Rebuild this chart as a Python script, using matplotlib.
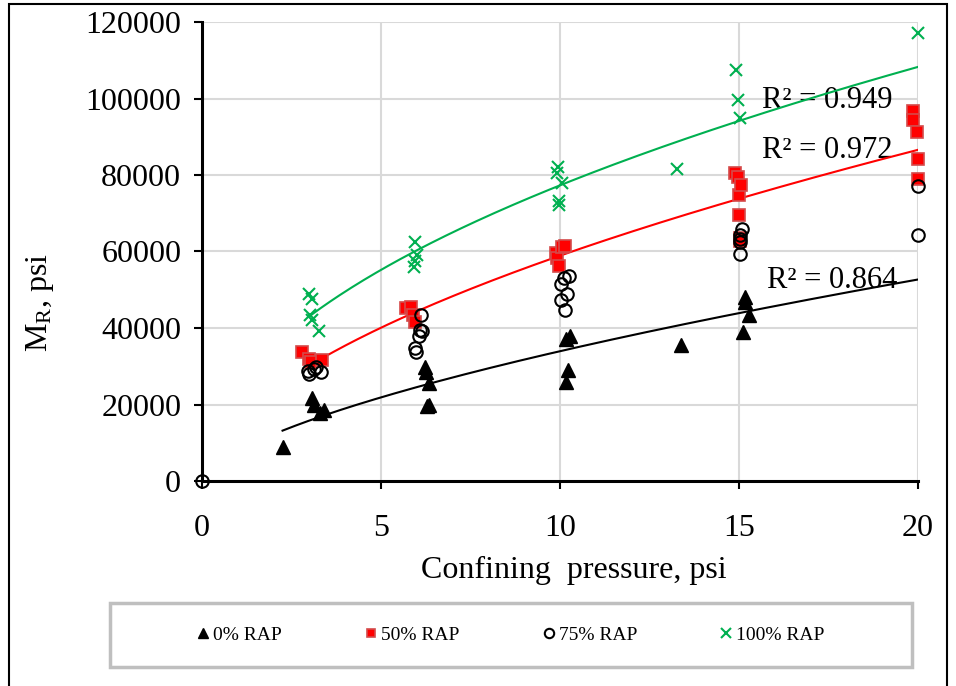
import numpy as np
import matplotlib
matplotlib.use("Agg")
import matplotlib.pyplot as plt
from matplotlib.patches import Rectangle

# Datos: presión de confinamiento (psi) vs módulo resiliente (psi)
x_0rap = [2.25, 3.07, 3.13, 3.3, 3.4, 6.23, 6.27, 6.35, 6.34, 6.28,
          10.17, 10.27, 10.22, 10.17, 13.39, 15.16, 15.16, 15.28, 15.11]
y_0rap = [8900, 21700, 20000, 17700, 18500, 29800, 28400, 25700, 20000, 19500,
          37200, 37800, 29100, 26000, 35500, 48100, 46700, 43300, 38900]

x_50rap = [2.79, 3.0, 3.05, 3.34, 5.69, 5.83, 5.88, 5.95,
           9.9, 9.93, 9.97, 10.05, 10.15,
           14.9, 14.96, 14.99, 15.06, 15.01, 15.04, 15.04,
           19.86, 19.86, 19.97, 20.0, 20.0]
y_50rap = [33800, 31800, 31100, 31700, 45100, 45400, 43300, 41500,
           59500, 58200, 56100, 61100, 61500,
           80400, 79600, 74800, 77500, 69500, 63500, 62700,
           96700, 94500, 91300, 84100, 79000]

x_75rap = [0.0, 2.96, 3.0, 3.13, 3.19, 3.32, 6.12, 6.1, 6.15, 6.05, 5.96, 5.98,
           10.03, 10.12, 10.24, 10.02, 10.19, 10.14,
           15.08, 15.04, 15.04, 15.04, 15.04, 20.0, 20.0]
y_75rap = [0, 28800, 28000, 29200, 29800, 28400, 43500, 39500, 39300, 38000, 34900, 33600,
           51500, 53000, 53600, 47200, 48900, 44600,
           65900, 64300, 63200, 62600, 59300, 77000, 64300]

x_100rap = [3.0, 3.07, 3.02, 3.07, 3.27, 5.96, 6.0, 5.96, 5.91,
            9.95, 9.93, 10.05, 9.97, 9.97, 13.27, 14.92, 14.97, 15.03, 20.0]
y_100rap = [49000, 47500, 43500, 42000, 39100, 62600, 59000, 57600, 55900,
            82100, 80400, 77800, 73300, 72100, 81500, 107400, 99700, 94800, 117100]

# Líneas de tendencia potenciales (y = a * x^b) y sus R²
tendencia_a = {"0": 7873, "50": 16385, "100": 25245}
tendencia_b = {"0": 0.6345, "50": 0.5557, "100": 0.486}
tendencia_xmin = {"0": 2.25, "50": 3.34, "100": 3.07}
r2_textos = {"0": "R² = 0.864", "50": "R² = 0.972", "100": "R² = 0.949"}
r2_pos = {"0": (15.78, 52500), "50": (15.64, 86500), "100": (15.64, 99600)}

VERDE = "#00b050"
ROJO = "#ff0000"


def configurar_fuentes():
    plt.rcParams["font.family"] = ["Liberation Serif", "DejaVu Serif"]
    plt.rcParams["mathtext.fontset"] = "custom"
    plt.rcParams["mathtext.rm"] = "Liberation Serif"
    plt.rcParams["mathtext.it"] = "Liberation Serif:italic"


def dibujar_tendencia(ax, clave, color):
    x = np.linspace(tendencia_xmin[clave], 20, 200)
    y = tendencia_a[clave] * x ** tendencia_b[clave]
    ax.plot(x, y, color=color, lw=1.5, zorder=2)
    ax.text(r2_pos[clave][0], r2_pos[clave][1], r2_textos[clave],
            fontsize=22, va="center", ha="left", zorder=1)


def main():
    configurar_fuentes()
    fig = plt.figure(figsize=(9.56, 6.86), dpi=100)
    ax = fig.add_axes([202 / 956, 1 - 481 / 686, 716 / 956, 459 / 686])

    # Tendencias
    dibujar_tendencia(ax, "0", "black")
    dibujar_tendencia(ax, "50", ROJO)
    dibujar_tendencia(ax, "100", VERDE)

    # Puntos
    ax.plot(x_0rap, y_0rap, ls="none", marker="^", ms=10, color="black",
            label="0% RAP", clip_on=False, zorder=3)
    ax.plot(x_50rap, y_50rap, ls="none", marker="s", ms=8, mfc=ROJO,
            mec="#d44a4a", mew=1.2, label="50% RAP", clip_on=False, zorder=3)
    ax.plot(x_75rap, y_75rap, ls="none", marker="o", ms=9, mfc="none",
            mec="black", mew=1.5, label="75% RAP", clip_on=False, zorder=4)
    ax.plot(x_100rap, y_100rap, ls="none", marker="x", ms=9, color=VERDE,
            mew=1.5, label="100% RAP", clip_on=False, zorder=4)

    ax.set_xlim(0, 20)
    ax.set_ylim(0, 120000)
    ax.set_xticks([0, 5, 10, 15, 20])
    ax.set_yticks(np.arange(0, 120001, 20000))
    ax.grid(True, color="#d9d9d9", lw=1.5)
    ax.set_axisbelow(True)

    for lado in ["top", "right"]:
        ax.spines[lado].set_visible(False)
    for lado in ["left", "bottom"]:
        ax.spines[lado].set_linewidth(2.2)
    ax.tick_params(axis="both", direction="out", length=6, width=1.5,
                   labelsize=23)
    ax.tick_params(axis="x", pad=18)
    ax.tick_params(axis="y", pad=9)

    fig.text(574 / 956, 1 - 570 / 686, "Confining  pressure, psi",
             fontsize=23, ha="center", va="center")
    fig.text(40 / 956, 1 - 302 / 686, r"M$_{\mathregular{R}}$, psi",
             fontsize=23, ha="center", va="center", rotation=90)

    # Caja de la leyenda y borde exterior
    fig.patches.append(Rectangle((110 / 956, 1 - 667 / 686), 802 / 956, 64 / 686,
                                 transform=fig.transFigure, fill=False,
                                 edgecolor="#bfbfbf", lw=2.5))
    fig.patches.append(Rectangle((9 / 956, -0.02), 938 / 956, 1.0 - 4 / 686 + 0.02,
                                 transform=fig.transFigure, fill=False,
                                 edgecolor="black", lw=1.5))

    fig.legend(loc="center", bbox_to_anchor=(511 / 956, 1 - 635 / 686),
               ncol=4, frameon=False, fontsize=14, markerscale=0.75,
               handlelength=0.6, handletextpad=0.2, columnspacing=4.3)

    fig.savefig("out.png", dpi=100)
    plt.close(fig)


if __name__ == "__main__":
    main()
